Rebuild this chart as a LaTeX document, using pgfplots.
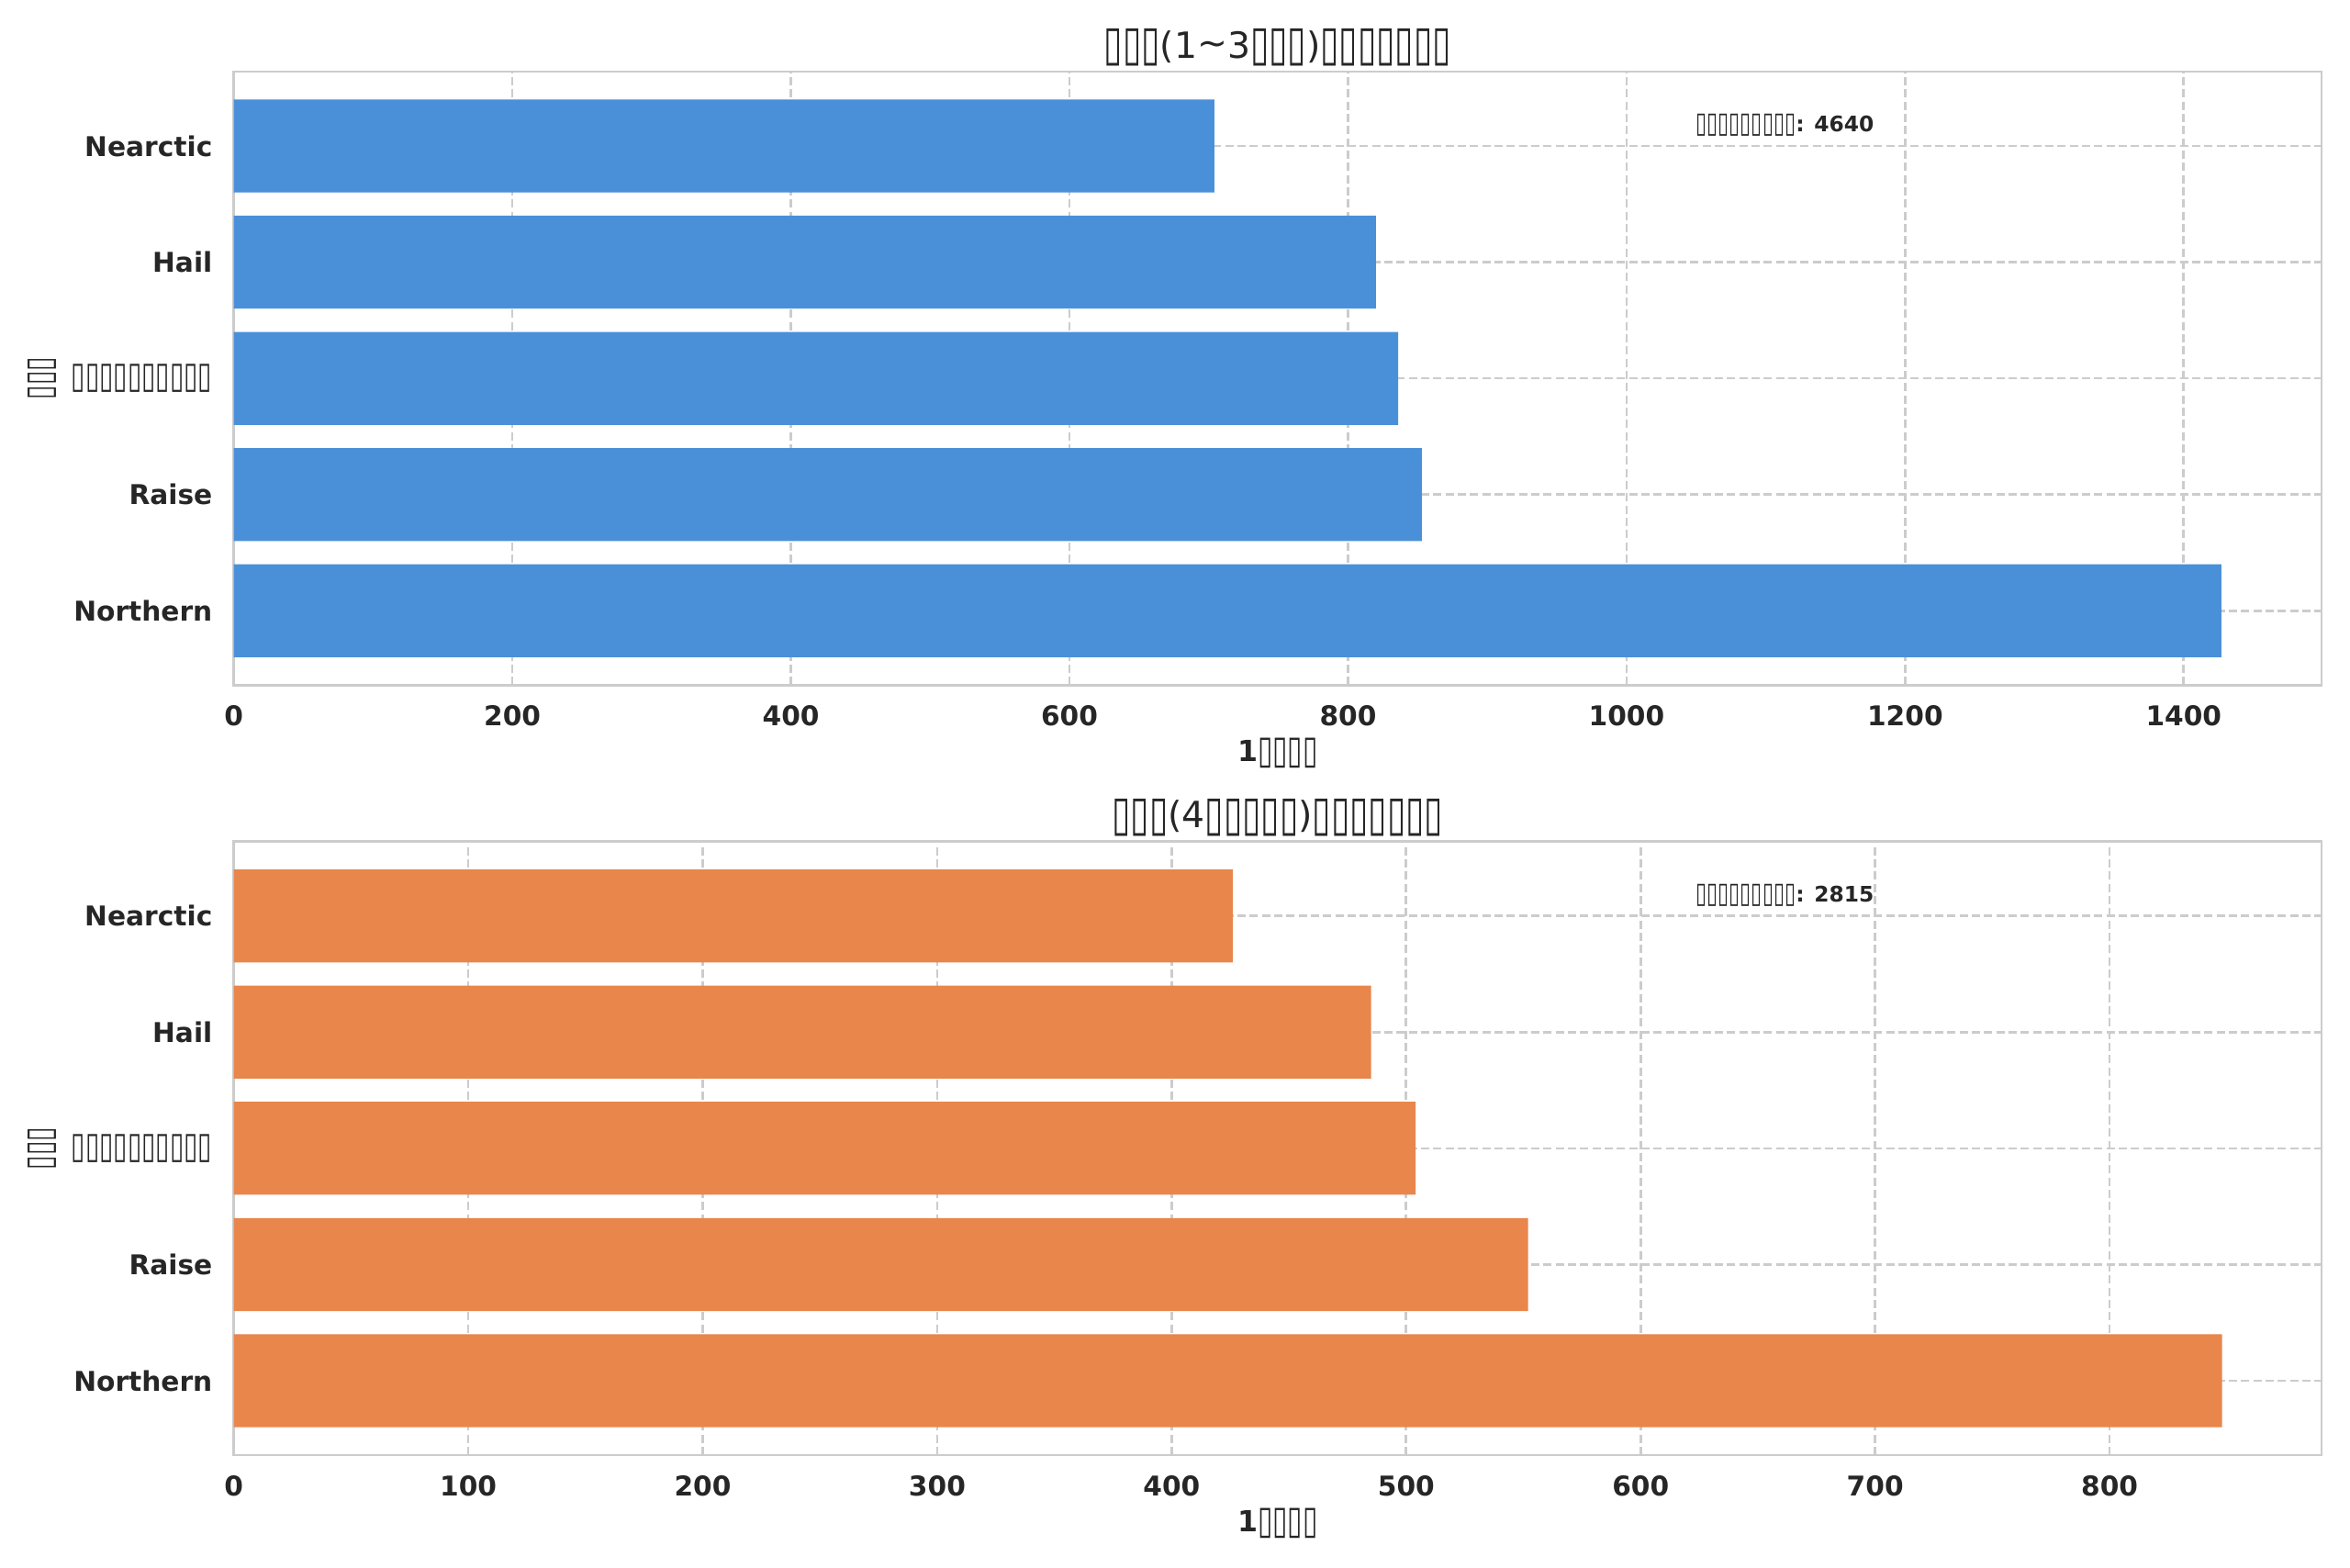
\documentclass[border=0pt]{standalone}
\usepackage{pgfplots}
\pgfplotsset{compat=1.18}
\usepackage{fontspec}
\setmainfont{DejaVu Sans}
\definecolor{barblue}{RGB}{74,144,217}
\definecolor{barorange}{RGB}{232,134,76}
\definecolor{gridc}{RGB}{204,204,204}
\definecolor{txt}{RGB}{38,38,38}
\newcommand\tf{{\mdseries\raisebox{-0.06em}{\scalebox{0.94}[1.35]{▯}}}}
\pgfplotsset{mystyle/.style={
  scale only axis, width=682.3pt, height=200.5pt,
  xbar, bar width=0.8, bar shift=0pt,
  enlargelimits=false,
  ymin=-0.64, ymax=4.64, xmin=0,
  ytick={0,1,2,3,4},
  yticklabels={Northern,Raise,\tf\tf\tf\tf\tf\tf\tf\tf\tf\tf,Hail,Nearctic},
  xmajorgrids, ymajorgrids,
  grid style={gridc, line width=0.8pt, dash pattern=on 2.7pt off 1.3pt},
  axis line style={gridc, line width=0.8pt},
  major tick length=0pt,
  tick label style={font=\fontsize{8.9}{11}\selectfont\bfseries, text=txt},
  /pgf/number format/assume math mode=true,
  /pgf/number format/1000 sep={},
  xticklabel style={inner sep=0pt, anchor=north, yshift=-6.5pt},
  yticklabel style={inner sep=0pt, anchor=east, xshift=-6.8pt},
  title style={font=\fontsize{11.8}{13}\selectfont, text=txt, at={(axis description cs:0.5,1.0095)}, anchor=center},
  xlabel style={font=\fontsize{9.5}{11}\selectfont\bfseries, text=txt, at={(axis description cs:0.5,-0.1107)}, anchor=center},
  ylabel style={font=\fontsize{9}{11}\selectfont, text=txt, at={(axis description cs:-0.0917,0.5)}, anchor=center},
  xlabel={1\tf\tf\tf\tf},
  ylabel={\tf\tf\tf},
}}
\begin{document}
\begin{tikzpicture}
\useasboundingbox (0,0) rectangle (768pt,512.1pt);
\begin{axis}[mystyle, at={(76.4pt,488.7pt)}, anchor=north west,
  xmax=1499, xtick={0,200,400,600,800,1000,1200,1400},
  title={\tf\tf\tf(1\raisebox{0.1ex}{\textasciitilde}3\tf\tf\tf)\tf\tf\tf\tf\tf\tf\tf}]
\addplot[fill=barblue, draw=none] coordinates {(1427,0) (853,1) (836,2) (820,3) (704,4)};
\node[font=\fontsize{7}{8}\selectfont\bfseries, text=txt] at (rel axis cs:0.743,0.912) {\tf\tf\tf\tf\tf\tf\tf\tf\tf: 4640};
\end{axis}
\begin{axis}[mystyle, at={(76.4pt,237.1pt)}, anchor=north west,
  xmax=890.4, xtick={0,100,200,300,400,500,600,700,800},
  title={\tf\tf\tf(4\tf\tf\tf\tf\tf)\tf\tf\tf\tf\tf\tf\tf}]
\addplot[fill=barorange, draw=none] coordinates {(848,0) (552,1) (504,2) (485,3) (426,4)};
\node[font=\fontsize{7}{8}\selectfont\bfseries, text=txt] at (rel axis cs:0.743,0.912) {\tf\tf\tf\tf\tf\tf\tf\tf\tf: 2815};
\end{axis}
\end{tikzpicture}
\end{document}
